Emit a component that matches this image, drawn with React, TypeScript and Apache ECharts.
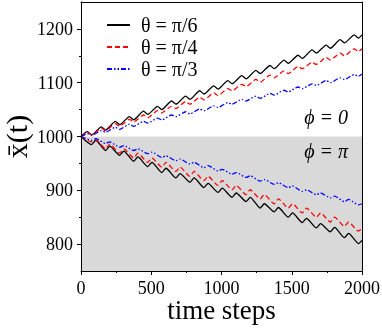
import React, { useEffect, useRef } from "react";
import * as echarts from "echarts";

const seriesNames = ["θ = π/6", "θ = π/4", "θ = π/3"];
const colors = ["#000000", "#ff0000", "#0000ff"];

const xMin = 0;
const xMax = 2000;
const xInterval = 500;
const yMin = 750;
const yMax = 1250;
const yMajorTicks = [800, 900, 1000, 1100, 1200];
const yMinorTicks = [850, 950, 1050, 1150];
const splitLevel = 1000;
const startValue = 1000;

// time steps of the oscillation extrema
const lowerTroughSteps = [75, 175, 275, 375, 475, 575, 675, 775, 875, 975, 1075, 1175, 1275, 1375, 1475, 1575, 1675, 1775, 1875, 1975];
const lowerPeakSteps = [105, 205, 305, 405, 505, 605, 705, 805, 905, 1005, 1105, 1205, 1305, 1405, 1505, 1605, 1705, 1805, 1905];
const upperPeakSteps = [45, 145, 245, 345, 445, 545, 645, 745, 845, 945, 1045, 1145, 1245, 1345, 1445, 1545, 1645, 1745, 1845, 1945];
const upperDipSteps = [75, 175, 275, 375, 475, 575, 675, 775, 875, 975, 1075, 1175, 1275, 1375, 1475, 1575, 1675, 1775, 1875, 1975];

// phi = pi (lower branch)
const blackLowTrough = [985, 974, 965, 954, 944, 933, 923, 915, 905, 896, 887, 879, 867, 860, 850, 840, 830, 823, 812, 801];
const blackLowPeak = [993, 982, 973, 962, 952, 941, 931, 923, 913, 904, 895, 887, 875, 868, 858, 848, 838, 831, 820];
const blackLowEnd = 807;
const redLowTrough = [990, 977, 969, 960, 952, 943, 935, 926, 918, 909, 901, 892, 884, 875, 867, 858, 850, 841, 833, 824];
const redLowPeak = [994, 986, 977, 969, 960, 952, 943, 935, 926, 918, 909, 901, 892, 884, 875, 867, 858, 850, 841];
const redLowEnd = 829;
const blueLowTrough = [993, 987, 980, 974, 968, 961, 955, 949, 942, 936, 930, 924, 917, 911, 905, 898, 892, 886, 879, 873];
const blueLowPeak = [996, 990, 983, 977, 971, 964, 958, 952, 946, 939, 933, 927, 920, 914, 908, 901, 895, 889, 883];
const blueLowEnd = 875;

// phi = 0 (upper branch)
const blackUpPeak = [1009, 1018, 1028, 1037, 1047, 1056, 1066, 1075, 1085, 1094, 1104, 1113, 1123, 1132, 1142, 1151, 1161, 1170, 1180, 1189];
const blackUpDip = [1003, 1012, 1022, 1031, 1041, 1050, 1060, 1069, 1079, 1088, 1098, 1107, 1117, 1126, 1136, 1145, 1155, 1164, 1174, 1183];
const blackUpEnd = 1189;
const redUpPeak = [1007, 1015, 1024, 1032, 1040, 1048, 1056, 1065, 1073, 1081, 1089, 1097, 1106, 1114, 1122, 1130, 1138, 1147, 1155, 1163];
const redUpDip = [1003, 1011, 1019, 1027, 1035, 1044, 1052, 1060, 1068, 1076, 1085, 1093, 1101, 1109, 1117, 1126, 1134, 1142, 1150, 1158];
const redUpEnd = 1163;
const blueUpPeak = [1005, 1011, 1017, 1023, 1028, 1034, 1040, 1046, 1051, 1057, 1063, 1069, 1075, 1080, 1086, 1092, 1098, 1104, 1109, 1115];
const blueUpDip = [1002, 1008, 1013, 1019, 1025, 1031, 1037, 1042, 1048, 1054, 1060, 1066, 1071, 1077, 1083, 1089, 1095, 1100, 1106, 1112];
const blueUpEnd = 1116;

const lowerPoints = (troughs: number[], peaks: number[], end: number) => {
  const pts: number[][] = [[xMin, startValue]];
  troughs.forEach((v, i) => {
    pts.push([lowerTroughSteps[i], v]);
    if (i < peaks.length) pts.push([lowerPeakSteps[i], peaks[i]]);
  });
  pts.push([xMax, end]);
  return pts;
};

const upperPoints = (peaks: number[], dips: number[], end: number) => {
  const pts: number[][] = [[xMin, startValue]];
  peaks.forEach((v, i) => {
    pts.push([upperPeakSteps[i], v]);
    pts.push([upperDipSteps[i], dips[i]]);
  });
  pts.push([xMax, end]);
  return pts;
};

const FONT = "Liberation Serif";
const lineTypes: any[] = ["solid", [5, 3], [5, 2, 1.5, 2, 1.5, 2]];
const plain = (v: number) => String(v);

export default function App() {
  const ref = useRef<HTMLDivElement>(null);
  useEffect(() => {
    if (!ref.current) return;
    const chart = echarts.init(ref.current, null, { renderer: "svg" });
    const upper = [
      upperPoints(blackUpPeak, blackUpDip, blackUpEnd),
      upperPoints(redUpPeak, redUpDip, redUpEnd),
      upperPoints(blueUpPeak, blueUpDip, blueUpEnd),
    ];
    const lower = [
      lowerPoints(blackLowTrough, blackLowPeak, blackLowEnd),
      lowerPoints(redLowTrough, redLowPeak, redLowEnd),
      lowerPoints(blueLowTrough, blueLowPeak, blueLowEnd),
    ];
    const mkSeries = (data: number[][], i: number) => ({
      type: "line",
      name: seriesNames[i],
      data,
      showSymbol: false,
      symbol: "none",
      smooth: 0.2,
      z: 3,
      lineStyle: { color: colors[i], width: 1.3, type: lineTypes[i] },
      itemStyle: { color: colors[i] },
    });
    const series: any[] = [
      {
        type: "line",
        name: "bg",
        data: [],
        silent: true,
        markArea: {
          silent: true,
          itemStyle: { color: "#d9d9d9" },
          data: [[{ yAxis: yMin }, { yAxis: splitLevel }]],
        },
        z: 1,
      },
      ...upper.map((d, i) => mkSeries(d, i)),
      ...lower.map((d, i) => mkSeries(d, i)),
    ];
    const axisLineStyle = { color: "#000", width: 1 };
    const labelStyle = { fontFamily: FONT, fontSize: 18, lineHeight: 16, color: "#000", margin: 9, formatter: plain };
    chart.setOption({
      animation: false,
      textStyle: { fontFamily: FONT },
      grid: { left: 81, right: 20, top: 2, bottom: 57, containLabel: false, outerBoundsMode: "none" },
      legend: {
        data: seriesNames,
        orient: "vertical",
        left: 101,
        top: 10,
        itemWidth: 23,
        itemHeight: 10,
        itemGap: 2,
        itemStyle: { opacity: 0 },
        textStyle: { fontFamily: FONT, fontSize: 20, color: "#000", lineHeight: 18, padding: [0, 0, 0, 6] },
      },
      xAxis: [
        {
          type: "value",
          min: xMin,
          max: xMax,
          interval: xInterval,
          z: 5,
          axisLine: { show: true, lineStyle: axisLineStyle },
          axisTick: { show: true, length: 4, lineStyle: axisLineStyle },
          minorTick: { show: true, splitNumber: 2, length: 2, lineStyle: axisLineStyle },
          splitLine: { show: false },
          axisLabel: labelStyle,
          name: "time steps",
          nameLocation: "middle",
          nameGap: 27,
          nameMoveOverlap: false,
          nameTextStyle: { fontFamily: FONT, fontSize: 27, lineHeight: 24, color: "#000" },
        },
        {
          type: "value",
          min: xMin,
          max: xMax,
          position: "top",
          z: 5,
          axisLine: { show: true, lineStyle: axisLineStyle },
          axisTick: { show: false },
          axisLabel: { show: false },
          splitLine: { show: false },
        },
      ],
      yAxis: [
        {
          type: "value",
          min: yMin,
          max: yMax,
          z: 5,
          axisLine: { show: true, lineStyle: axisLineStyle },
          axisTick: { show: true, length: 4, customValues: yMajorTicks, lineStyle: axisLineStyle },
          axisLabel: { ...labelStyle, margin: 8, customValues: yMajorTicks },
          splitLine: { show: false },
          name: "x\u0304(t)",
          nameLocation: "middle",
          nameGap: 50,
          nameMoveOverlap: false,
          nameRotate: 90,
          nameTextStyle: { fontFamily: FONT, fontSize: 30, color: "#000" },
        },
        {
          type: "value",
          min: yMin,
          max: yMax,
          position: "left",
          z: 5,
          axisLine: { show: false },
          axisTick: { show: true, length: 2, customValues: yMinorTicks, lineStyle: axisLineStyle },
          axisLabel: { show: false },
          splitLine: { show: false },
        },
        {
          type: "value",
          min: yMin,
          max: yMax,
          position: "right",
          z: 5,
          axisLine: { show: true, lineStyle: axisLineStyle },
          axisTick: { show: false },
          axisLabel: { show: false },
          splitLine: { show: false },
        },
      ],
      graphic: [
        {
          type: "text",
          right: 34,
          top: 107,
          z: 10,
          style: { text: "ϕ = 0", font: "italic 20px Liberation Serif", fill: "#000" },
        },
        {
          type: "text",
          right: 34,
          top: 141,
          z: 10,
          style: { text: "ϕ = π", font: "italic 20px Liberation Serif", fill: "#000" },
        },
      ],
      series,
    });
    return () => chart.dispose();
  }, []);
  return <div ref={ref} style={{ position: "fixed", left: 0, top: 0, width: 382, height: 328 }} />;
}
